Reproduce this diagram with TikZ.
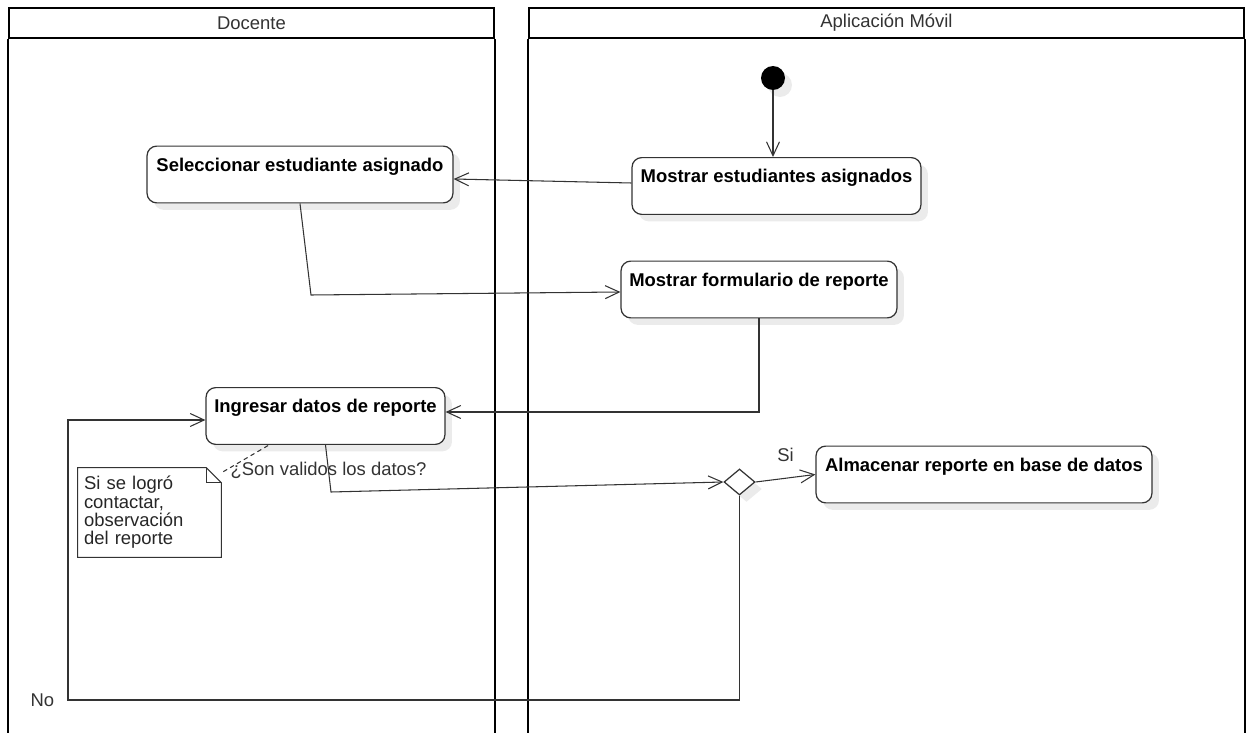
\documentclass[tikz,border=0pt]{standalone}
\usepackage{fontspec}
\setmainfont{Liberation Sans}
\usetikzlibrary{arrows.meta,shapes.geometric,shadows}

\tikzset{
  carril/.style={draw=black, line width=1.2pt, minimum height=0.6cm, inner sep=0pt,
    font=\fontsize{10.5}{12}\selectfont, text=black!80},
  sombra/.style={drop shadow={shadow xshift=0.14cm, shadow yshift=-0.14cm, fill=black, opacity=0.08}},
  accion/.style={draw=black!80, line width=0.7pt, rounded corners=5.5pt, fill=white, sombra,
    font=\fontsize{10.5}{12}\selectfont\bfseries, inner xsep=2pt, inner ysep=3pt,
    text height=11.2pt, text depth=15.1pt},
  inicio/.style={circle, fill=black, minimum size=0.48cm, inner sep=0pt, sombra},
  decision/.style={diamond, draw=black!80, line width=0.7pt, fill=white, sombra,
    minimum width=0.62cm, minimum height=0.52cm, inner sep=0pt},
  nota/.style={inner sep=0.12cm, text width=2.62cm, align=left, minimum width=2.86cm,
    minimum height=1.78cm, font=\fontsize{10.5}{10.4}\selectfont, text=black!85},
  flujo/.style={draw=black!80, line width=0.6pt, -{Straight Barb[length=2.8mm, width=2.6mm]}},
  etiqueta/.style={font=\fontsize{10.5}{12}\selectfont, text=black!80},
}

\begin{document}
\begin{tikzpicture}[x=0.02cm, y=-0.02cm]
    \useasboundingbox (0,0) rectangle (1249,733);

    % Carriles
    \node[carril, minimum width=9.7cm] (docente) at (251.5,23) {Docente};
    \node[carril, minimum width=14.3cm] (movil) at (886.5,23) {Aplicación Móvil};
    \draw[line width=1.2pt] (docente.south west) -- ++(0,695);
    \draw[line width=1.2pt] (docente.south east) -- ++(0,695);
    \draw[line width=1.2pt] (movil.south west) -- ++(0,695);
    \draw[line width=1.2pt] (movil.south east) -- ++(0,695);

    % Actividades
    \node[inicio] (ini) at (773,78) {};
    \node[accion, minimum width=5.78cm] (mest) at (776.5,186) {Mostrar estudiantes asignados};
    \node[accion, minimum width=6.12cm] (sel) at (300,174.5) {Seleccionar estudiante asignado};
    \node[accion, minimum width=5.52cm] (mform) at (759,289.5) {Mostrar formulario de reporte};
    \node[accion, minimum width=4.78cm] (ingr) at (325.5,416) {Ingresar datos de reporte};
    \node[decision] (dec) at (739.5,482) {};
    \node[accion, minimum width=6.72cm] (alm) at (984,474.5) {Almacenar reporte en base de datos};

    % Nota
    \node[nota] (obs) at (149.5,512.5) {Si se logró\\ contactar,\\ observación\\ del reporte};
    \draw[black!80, line width=0.6pt] (obs.north west) -- ([xshift=-0.3cm]obs.north east)
        -- ([yshift=-0.3cm]obs.north east) -- (obs.south east) -- (obs.south west) -- cycle;
    \draw[black!80, line width=0.6pt] ([xshift=-0.3cm]obs.north east)
        -- ([xshift=-0.3cm, yshift=-0.3cm]obs.north east) -- ([yshift=-0.3cm]obs.north east);
    \draw[black!80, line width=0.6pt, dash pattern=on 2.5pt off 2pt]
        ([xshift=0.04cm, yshift=-0.08cm]obs.north east) -- ([xshift=-1.13cm]ingr.south);

    % Flujos
    \draw[flujo] (ini) -- (ini |- mest.north);
    \draw[flujo] ([yshift=0.06cm]mest.west) -- ([yshift=-0.09cm]sel.east);
    \draw[flujo] (sel.south) -- (311,295) -- ([yshift=-0.05cm]mform.west);
    \draw[flujo] (mform.south) |- ([yshift=0.08cm]ingr.east);
    \draw[flujo] (ingr.south) -- node[etiqueta, pos=0.55] {¿Son validos los datos?} (331,492) -- (dec.west);
    \draw[flujo] (dec.east) -- node[etiqueta, above=0.2cm] {Si} (alm.west);
    \draw[flujo] (dec.south) |- (68,700) node[etiqueta, left=0.15cm] {No} |- ([yshift=-0.08cm]ingr.west);
\end{tikzpicture}
\end{document}
